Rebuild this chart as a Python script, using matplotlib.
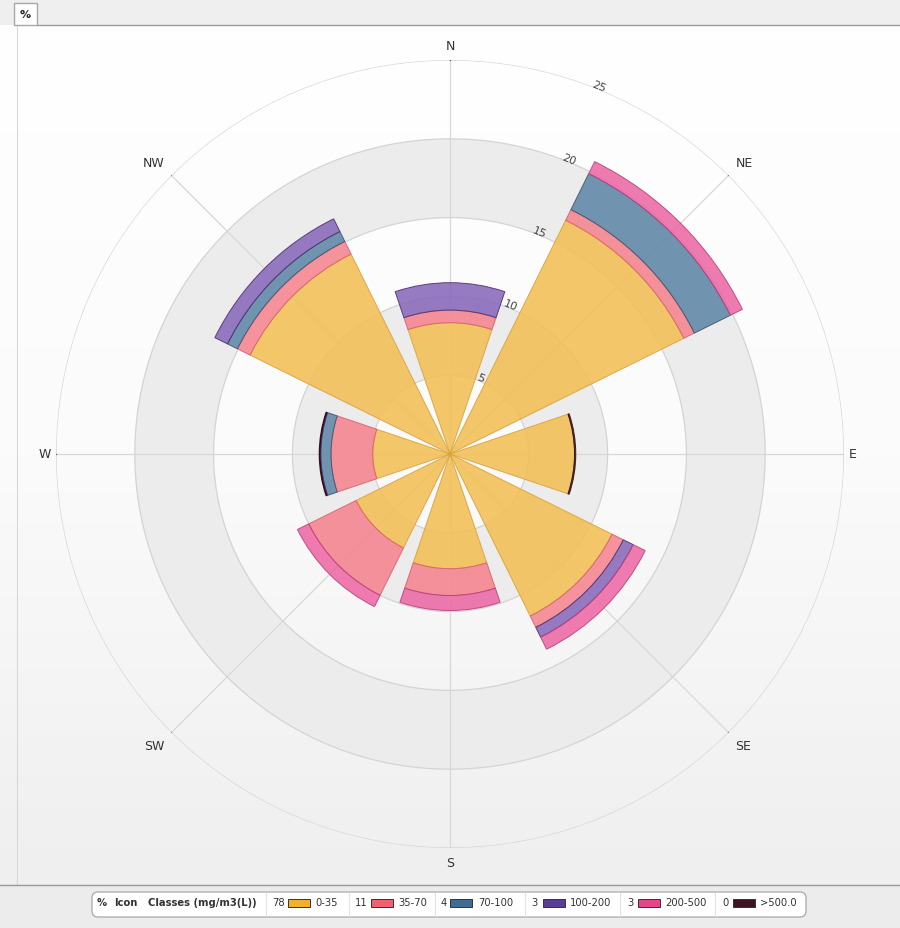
import numpy as np
import matplotlib
matplotlib.use('Agg')
import matplotlib.pyplot as plt
from matplotlib.patches import Rectangle, FancyBboxPatch

# wind-rose style data: % of time per direction and concentration class
directions = ['N', 'NE', 'E', 'SE', 'S', 'SW', 'W', 'NW']
angles_deg = [0, 45, 90, 135, 180, 225, 270, 315]
c0_35 = [8.33, 16.55, 7.9, 11.47, 7.28, 6.65, 4.9, 14.15]
c35_70 = [0.8, 0.75, 0.0, 0.8, 1.7, 3.35, 2.65, 0.9]
c70_100 = [0.0, 2.55, 0.0, 0.0, 0.0, 0.0, 0.65, 0.7]
c100_200 = [1.74, 0.0, 0.0, 0.7, 0.0, 0.0, 0.05, 0.9]
c200_500 = [0.0, 0.85, 0.0, 0.85, 0.95, 0.8, 0.0, 0.0]
c500 = [0.0, 0.0, 0.08, 0.0, 0.0, 0.0, 0.05, 0.0]

class_labels = ['0-35', '35-70', '70-100', '100-200', '200-500', '>500.0']
class_pct = ['78', '11', '4', '3', '3', '0']
r_ticks = [5, 10, 15, 20, 25]

series = [c0_35, c35_70, c70_100, c100_200, c200_500, c500]
fill_cols = ['#f2bf55', '#f5848f', '#5f88a8', '#8869ba', '#ed69a6', '#5a2232']
edge_cols = ['#d9a23c', '#d9606c', '#3c5270', '#4b2f70', '#b8407a', '#2a0a12']
swatch_cols = ['#f0b22a', '#f0606e', '#3f6d92', '#5a3d99', '#e84586', '#3b1620']

W, H = 900, 929
fig = plt.figure(figsize=(9, 9.29), dpi=100)

# background / frame in pixel coordinates
bg = fig.add_axes([0, 0, 1, 1])
bg.set_xlim(0, W)
bg.set_ylim(H, 0)
bg.axis('off')

grad = np.linspace(0, 1, 200)[:, None]
bg.imshow(grad, extent=[0, W, 885, 26], cmap=matplotlib.colors.LinearSegmentedColormap.from_list(
    'g', ['#ffffff', '#fbfbfb', '#efefef']), aspect='auto', zorder=0)
bg.add_patch(Rectangle((0, 0), W, 26, facecolor='#efefef', edgecolor='none', zorder=1))
bg.plot([37, W], [25.5, 25.5], color='#9a9a9a', lw=1, zorder=2)
bg.add_patch(Rectangle((14, 4), 23, 22, facecolor='white', edgecolor='#a8a8a8', lw=1, zorder=3))
bg.text(25.5, 15, '%', ha='center', va='center', fontsize=8, fontweight='bold', color='#222222', zorder=4)
bg.plot([17, 17], [26, 885], color='#d8d8d8', lw=0.8, zorder=2)

bg.add_patch(Rectangle((0, 885), W, H - 885, facecolor='#ececec', edgecolor='none', zorder=1))
bg.plot([0, W], [885.5, 885.5], color='#9a9a9a', lw=1, zorder=2)
bg.add_patch(FancyBboxPatch((92, 893), 714, 25, boxstyle='round,pad=0,rounding_size=6',
                            facecolor='white', edgecolor='#a8a8a8', lw=0.9, zorder=3))

ty = 903
fs = 7.2
bg.text(97, ty, '%', ha='left', va='center', fontsize=fs, fontweight='bold', color='#333333', zorder=4)
bg.text(114, ty, 'Icon', ha='left', va='center', fontsize=fs, fontweight='bold', color='#333333', zorder=4)
bg.text(148, ty, 'Classes (mg/m3(L))', ha='left', va='center', fontsize=fs, fontweight='bold',
        color='#333333', zorder=4)
sep_x = [266, 349, 435, 525, 620, 715]
num_x = [272, 355, 441, 531, 627, 722]
sw_x = [288, 371, 450, 543, 638, 733]
lab_x = [315, 398, 478, 570, 665, 760]
for i in range(len(class_labels)):
    bg.plot([sep_x[i], sep_x[i]], [894, 917], color='#e2e2e2', lw=0.8, zorder=4)
    bg.text(num_x[i], ty, class_pct[i], ha='left', va='center', fontsize=fs, color='#333333', zorder=4)
    bg.add_patch(Rectangle((sw_x[i], 899.5), 22, 8, facecolor=swatch_cols[i], edgecolor='#333333',
                           lw=0.7, zorder=4))
    bg.text(lab_x[i], ty, class_labels[i], ha='left', va='center', fontsize=fs, color='#333333', zorder=4)

# polar wind rose, centre at (450, 455), radius 394 px for 25 %
R = 394
cx, cy = 450, 455
ax = fig.add_axes([(cx - R) / W, (H - cy - R) / H, 2 * R / W, 2 * R / H], projection='polar')
ax.set_facecolor('none')
ax.set_theta_zero_location('N')
ax.set_theta_direction(-1)
ax.set_ylim(0, 25)
ax.grid(False)
ax.set_xticks([])
ax.set_yticks([])
ax.spines['polar'].set_visible(False)

# shaded bands
for lo in [5, 15]:
    ax.bar(0, 5, width=2 * np.pi, bottom=lo, color='#ececec', edgecolor='none', zorder=1)

t = np.linspace(0, 2 * np.pi, 400)
for r in r_ticks:
    ax.plot(t, np.full_like(t, r), color='#d4d4d4', lw=0.9, zorder=2)
theta = np.deg2rad(angles_deg)
for a in theta:
    ax.plot([a, a], [0, 25], color='#d8d8d8', lw=0.9, zorder=2)
    ax.plot([a, a], [25, 25.25], color='#555555', lw=0.8, zorder=2)

# stacked bars (zero segments skipped so they leave no outline)
width = np.deg2rad(45) * 0.83
bottom = np.zeros(len(directions))
for vals, fc, ec in zip(series, fill_cols, edge_cols):
    v = np.array(vals)
    keep = v > 0
    ax.bar(theta[keep], v[keep], width=width, bottom=bottom[keep], color=fc, alpha=0.88,
           edgecolor=ec, lw=0.7, zorder=3)
    bottom = bottom + v

# direction labels
lab_pos = {
    'N': (0, 25.5, 'center', 'bottom'), 'NE': (45, 25.6, 'left', 'bottom'),
    'E': (90, 25.3, 'left', 'center'), 'SE': (135, 25.6, 'left', 'top'),
    'S': (180, 25.5, 'center', 'top'), 'SW': (225, 25.6, 'right', 'top'),
    'W': (270, 25.3, 'right', 'center'), 'NW': (315, 25.6, 'right', 'bottom'),
}
for d in directions:
    ang, rr, ha, va = lab_pos[d]
    ax.text(np.deg2rad(ang), rr, d, ha=ha, va=va, fontsize=9, color='#333333', zorder=5)

# radial labels
for r in r_ticks:
    ax.text(np.deg2rad(22), r + 0.2, str(r), ha='center', va='center', rotation=-22,
            fontsize=8, color='#444444', zorder=5)

fig.savefig('out.png', dpi=100)
